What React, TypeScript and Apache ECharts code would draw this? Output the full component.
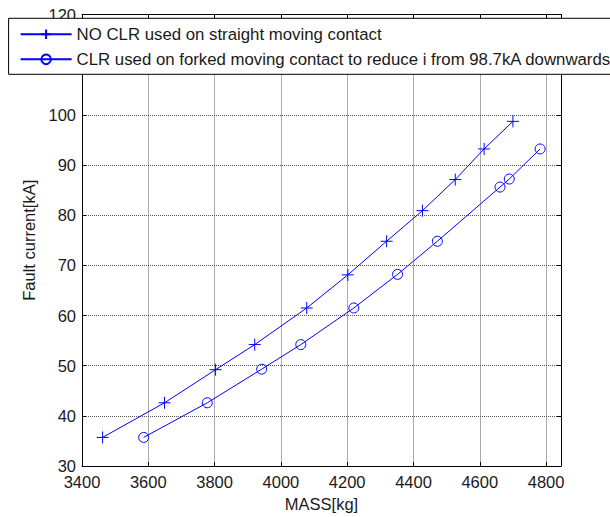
import React, { useEffect, useRef } from "react";
import * as echarts from "echarts";

const massNoClr = [3462, 3649, 3803, 3921, 4078, 4202, 4319, 4427, 4526, 4613, 4700];
const currentNoClr = [35.7, 42.6, 49.2, 54.2, 61.5, 68.1, 74.8, 80.9, 87.1, 93.2, 98.7];
const massClr = [3586, 3778, 3942, 4060, 4220, 4352, 4472, 4661, 4689, 4782];
const currentClr = [35.7, 42.6, 49.3, 54.2, 61.5, 68.2, 74.8, 85.6, 87.2, 93.2];

const seriesNames = [
  "NO CLR used on straight moving contact",
  "CLR used on forked moving contact to reduce i from 98.7kA downwards",
];
const xName = "MASS[kg]";
const yName = "Fault current[kA]";

const FONT = "Liberation Sans, Arial, sans-serif";
const TXT = "#1a1a1a";
const BLUE = "#0000ff";

export default function App() {
  const ref = useRef<HTMLDivElement>(null);
  useEffect(() => {
    if (!ref.current) return;
    const chart = echarts.init(ref.current, undefined, { renderer: "svg" });
    const pts1 = massNoClr.map((m, i) => [m, currentNoClr[i]]);
    const pts2 = massClr.map((m, i) => [m, currentClr[i]]);
    const axisLine = { show: true, lineStyle: { color: "#000", width: 1 } };
    const tickIn = { show: true, inside: true, length: 4, lineStyle: { color: "#000" } };
    const split = { show: true, lineStyle: { color: "#555", type: [1, 1] as any, width: 1 } };
    chart.setOption({
      animation: false,
      backgroundColor: "#fff",
      textStyle: { fontFamily: FONT },
      grid: { left: 82, right: 49, top: 14.5, bottom: 50 },
      legend: {
        left: 8.6,
        top: 18.3,
        orient: "vertical",
        padding: [7, 8, 6, 11],
        itemGap: 7,
        itemWidth: 51,
        itemHeight: 12,
        backgroundColor: "#fff",
        borderColor: "#000",
        borderWidth: 1,
        textStyle: { fontSize: 16.8, color: TXT, fontFamily: FONT, lineHeight: 18 },
        data: seriesNames,
      },
      xAxis: [
        {
          type: "value",
          min: 3400,
          max: 4845,
          interval: 200,
          name: xName,
          nameLocation: "middle",
          nameGap: 29,
          nameTextStyle: { fontSize: 16.5, color: TXT, fontFamily: FONT },
          axisLine,
          axisTick: tickIn,
          splitLine: split,
          axisLabel: {
            fontSize: 16.5,
            color: TXT,
            fontFamily: FONT,
            margin: 7,
            formatter: (v: number) => (v % 200 === 0 ? String(v) : ""),
          },
        },
        {
          type: "value",
          position: "top",
          min: 3400,
          max: 4845,
          interval: 200,
          axisLine,
          axisTick: tickIn,
          splitLine: { show: false },
          axisLabel: { show: false },
        },
      ],
      yAxis: [
        {
          type: "value",
          min: 30,
          max: 120,
          interval: 10,
          name: yName,
          nameLocation: "middle",
          nameGap: 45,
          nameTextStyle: { fontSize: 16.5, color: TXT, fontFamily: FONT },
          axisLine,
          axisTick: tickIn,
          splitLine: split,
          axisLabel: { fontSize: 16.5, color: TXT, fontFamily: FONT, margin: 6 },
        },
        {
          type: "value",
          position: "right",
          min: 30,
          max: 120,
          interval: 10,
          axisLine,
          axisTick: tickIn,
          splitLine: { show: false },
          axisLabel: { show: false },
        },
      ],
      series: [
        {
          name: seriesNames[0],
          type: "line",
          data: pts1,
          symbol: "path://M10,0L10,20M0,10L20,10",
          symbolSize: 12,
          itemStyle: { color: BLUE, borderColor: BLUE, borderWidth: 1 },
          lineStyle: { color: BLUE, width: 1 },
        },
        {
          name: seriesNames[1],
          type: "line",
          data: pts2,
          symbol: "circle",
          symbolSize: 10,
          itemStyle: { color: "rgba(0,0,0,0)", borderColor: BLUE, borderWidth: 1 },
          lineStyle: { color: BLUE, width: 1 },
        },
      ],
    });
    return () => chart.dispose();
  }, []);
  return (
    <div
      ref={ref}
      style={{ position: "fixed", left: 0, top: 0, width: 610, height: 517 }}
    />
  );
}
